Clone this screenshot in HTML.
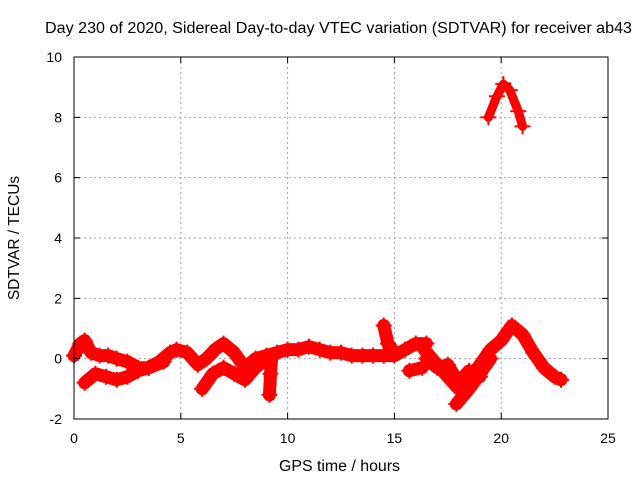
<!DOCTYPE html>
<html><head><meta charset="utf-8"><style>
body{margin:0;background:#fff;}
svg{display:block;font-family:"Liberation Sans",sans-serif;}
</style></head><body>
<svg id="c" width="640" height="480"></svg>
<script>
const xTicks=[0,5,10,15,20,25];
const yTicks=[-2,0,2,4,6,8,10];
const trackUpper=[[0,0.1],[0.3,0.5],[0.5,0.6],[0.8,0.2],[1.2,0.1],[1.6,0.1],[2,0],[2.5,-0.1],[3,-0.3],[3.5,-0.3],[4,-0.1],[4.5,0.2],[4.8,0.3],[5.3,0.2],[5.8,-0.2],[6.2,0],[6.6,0.3],[7,0.5],[7.5,0.2],[8,-0.3],[8.5,0],[9,0.1],[9.5,0.2],[10,0.3],[10.5,0.3],[11,0.4],[11.5,0.3],[12,0.2],[12.5,0.2],[13,0.1],[13.5,0.1],[14,0.1],[14.5,0.1],[15,0.1],[15.5,0.3],[16,0.5],[16.5,0.5]];
const trackLowerA=[[0.5,-0.8],[1,-0.5],[1.5,-0.6],[2,-0.7],[2.5,-0.6],[3,-0.4],[3.5,-0.3],[4.2,-0.1]];
const trackLowerB=[[6,-1.0],[6.5,-0.5],[7,-0.3],[7.5,-0.5],[8,-0.7],[8.5,-0.3],[9,0]];
const trackSpike9=[[9.15,-1.2],[9.2,-0.5],[9.25,0]];
const trackDusk=[[16.4,0.3],[17,-0.2],[17.5,-0.6],[18,-1.0],[18.5,-0.8],[19,-0.2],[19.5,0.3],[20,0.6],[20.5,1.1],[21,0.8],[21.5,0.2],[22,-0.3],[22.5,-0.6],[22.8,-0.7]];
const trackDusk2=[[16.5,0],[17,-0.3],[17.5,-0.2],[18,-0.8],[18.5,-0.4],[19,-0.6]];
const trackDip=[[17.9,-1.5],[18.5,-1.0],[19,-0.5],[19.5,0]];
const trackSpike14=[[14.5,1.1],[14.7,0.5],[15,0.2]];
const trackSmall=[[15.7,-0.4],[16.3,-0.3]];
const trackArc=[[19.4,8.0],[19.8,8.7],[20.1,9.1],[20.4,8.9],[20.8,8.2],[21,7.7]];
const tracks={trackUpper,trackLowerA,trackLowerB,trackSpike9,trackDusk,trackDusk2,trackDip,trackSpike14,trackSmall,trackArc};

const L=74,R=608,T=57,B=419;
const X=v=>L+(v-0)/(25-0)*(R-L);
const Y=v=>B-(v+2)/(12)*(B-T);
const ns="http://www.w3.org/2000/svg";
const svg=document.getElementById('c');
function mk(tag,attrs,parent){const e=document.createElementNS(ns,tag);for(const k in attrs)e.setAttribute(k,attrs[k]);(parent||svg).appendChild(e);return e;}

xTicks.forEach(t=>{if(t>0&&t<25){const g=mk('line',{x1:X(t),x2:X(t),y1:T,y2:B,stroke:'#a0a0a0','stroke-dasharray':'2,3','stroke-width':1});

}});
yTicks.forEach(t=>{if(t>-2&&t<10){const g=mk('line',{x1:L,x2:R,y1:Y(t),y2:Y(t),stroke:'#a0a0a0','stroke-dasharray':'2,3','stroke-width':1});

}});

const dg=mk('g',{});


for(const name in tracks){
  const pts=tracks[name];
  const pl=mk('polyline',{points:pts.map(p=>X(p[0])+','+Y(p[1])).join(' '),fill:'none',stroke:'#ff0000','stroke-width':name==='trackArc'?9:13,'stroke-linejoin':'round','stroke-linecap':'round'},dg);
  
  
  pts.forEach(p=>{
    const m=mk('path',{d:`M${X(p[0])-8},${Y(p[1])}h16M${X(p[0])},${Y(p[1])-8}v16`,stroke:'#ff0000','stroke-width':2},dg);
    
    
  });
}

const fr=mk('rect',{x:L,y:T,width:R-L,height:B-T,fill:'none',stroke:'#000','stroke-width':1});



xTicks.forEach(t=>{
  const tk=mk('path',{d:`M${X(t)},${B}v-6M${X(t)},${T}v6`,stroke:'#000'});
  
  
  const tx=mk('text',{x:X(t),y:B+24,'text-anchor':'middle','font-size':14});
  tx.textContent=t;
  
  
});
yTicks.forEach(t=>{
  const tk=mk('path',{d:`M${L},${Y(t)}h6M${R},${Y(t)}h-6`,stroke:'#000'});
  
  
  const tx=mk('text',{x:L-12,y:Y(t)+5,'text-anchor':'end','font-size':14});
  tx.textContent=t;
  
  
});
</script>
<svg style="position:absolute;left:0;top:0" width="640" height="480">
<text x="45" y="33" textLength="587" lengthAdjust="spacingAndGlyphs" font-size="15.5" font-family="Liberation Sans">Day 230 of 2020, Sidereal Day-to-day VTEC variation (SDTVAR) for receiver ab43</text>
<text x="279" y="471" textLength="121" lengthAdjust="spacingAndGlyphs" font-size="15.5" font-family="Liberation Sans">GPS time / hours</text>
<text x="19" y="238" text-anchor="middle" font-size="15.5" font-family="Liberation Sans" transform="rotate(-90 19 238)">SDTVAR / TECUs</text>
</svg>
</body></html>
